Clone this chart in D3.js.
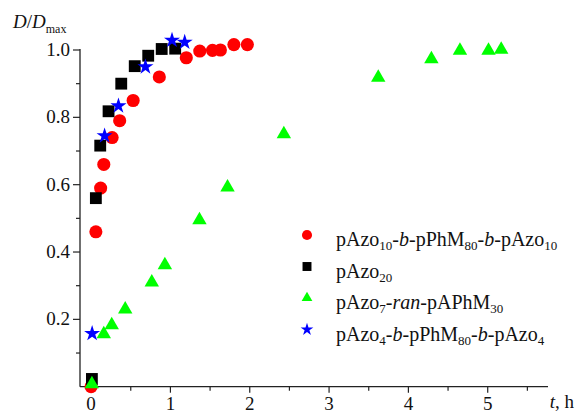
<!DOCTYPE html>
<meta charset="utf-8">
<script src="https://d3js.org/d3.v7.min.js"></script>
<body style="margin:0;background:#fff">
<svg width="576" height="414" font-family="'Liberation Serif', 'Times New Roman', serif"></svg>
<style>
text{ font-family: 'Liberation Serif', 'Times New Roman', serif; fill:#111; }
</style>
<script>
// series: time (h) and D/Dmax
const redT   = [0, 0.06, 0.12, 0.16, 0.265, 0.36, 0.53, 0.86, 1.20, 1.37, 1.53, 1.63, 1.80, 1.97];
const redV   = [0.0, 0.46, 0.59, 0.66, 0.74, 0.79, 0.85, 0.92, 0.977, 0.997, 0.999, 1.0, 1.016, 1.016];
const blackT = [0.01, 0.06, 0.115, 0.22, 0.38, 0.55, 0.72, 0.89, 1.06];
const blackV = [0.023, 0.56, 0.716, 0.818, 0.90, 0.952, 0.983, 1.003, 1.004];
const greenT = [0.01, 0.16, 0.26, 0.43, 0.765, 0.93, 1.366, 1.72, 2.43, 3.62, 4.29, 4.65, 5.01, 5.17];
const greenV = [0.008, 0.156, 0.183, 0.23, 0.31, 0.361, 0.495, 0.592, 0.75, 0.918, 0.973, 0.998, 0.998, 1.001];
const blueT  = [0.013, 0.17, 0.345, 0.685, 1.02, 1.18];
const blueV  = [0.158, 0.745, 0.834, 0.95, 1.029, 1.023];

const xTicks = [0, 1, 2, 3, 4, 5];
const yTicks = [0.2, 0.4, 0.6, 0.8, 1.0];

// legend label pieces: [text, style] where style: n normal, i italic, s subscript
const legendLabels = [
  [['pAzo','n'],['10','s'],['-','n'],['b','i'],['-pPhM','n'],['80','s'],['-','n'],['b','i'],['-pAzo','n'],['10','s']],
  [['pAzo','n'],['20','s']],
  [['pAzo','n'],['7','s'],['-','n'],['ran','i'],['-pAPhM','n'],['30','s']],
  [['pAzo','n'],['4','s'],['-','n'],['b','i'],['-pPhM','n'],['80','s'],['-','n'],['b','i'],['-pAzo','n'],['4','s']]
];

const series = [
  {t: redT,   v: redV,   color: '#ff0000', sym: d3.symbolCircle,   size: 135, lsize: 80},
  {t: blackT, v: blackV, color: '#000000', sym: d3.symbolSquare,   size: 140, lsize: 80},
  {t: greenT, v: greenV, color: '#00ff00', sym: d3.symbolTriangle, size: 90,  lsize: 50},
  {t: blueT,  v: blueV,  color: '#0000ff', sym: d3.symbolStar,     size: 80,  lsize: 50}
];

const svg = d3.select('svg');
const x = d3.scaleLinear().domain([-0.14, 5.76]).range([80, 548]);
const y = d3.scaleLinear().domain([0, 1.0]).range([386.7, 50]);

const axisColor = '#222';

// x axis
const gx = svg.append('g').attr('transform', 'translate(0,386.7)');
gx.append('line').attr('x1', x.range()[0]).attr('x2', x.range()[1])
  .attr('stroke', axisColor).attr('stroke-width', 1.3);
d3.range(0, 6, 0.5).forEach(t => {
  const major = Math.abs(t - Math.round(t)) < 1e-6;
  gx.append('line').attr('x1', x(t)).attr('x2', x(t))
    .attr('y1', 0).attr('y2', major ? 6 : 4)
    .attr('stroke', axisColor).attr('stroke-width', 1.2);
});
gx.selectAll('text.tl').data(xTicks).enter().append('text')
  .attr('class', 'tl')
  .attr('x', d => x(d)).attr('y', 23)
  .attr('text-anchor', 'middle').attr('font-size', 19)
  .text(d => d);

// y axis
const gy = svg.append('g').attr('transform', 'translate(80,0)');
gy.append('line').attr('y1', y(0)).attr('y2', y(1.0) - 1)
  .attr('stroke', axisColor).attr('stroke-width', 1.3);
d3.range(1, 11).forEach(i => {
  const v = i / 10;
  const major = i % 2 === 0;
  gy.append('line').attr('x1', 0).attr('x2', major ? -7 : -4)
    .attr('y1', y(v)).attr('y2', y(v))
    .attr('stroke', axisColor).attr('stroke-width', 1.2);
});
gy.selectAll('text.tl').data(yTicks).enter().append('text')
  .attr('class', 'tl')
  .attr('x', -10).attr('y', d => y(d) + 6)
  .attr('text-anchor', 'end').attr('font-size', 19)
  .text(d => d.toFixed(1));

// axis titles
const yt = svg.append('text').attr('x', 13).attr('y', 28).attr('font-size', 19);
yt.append('tspan').attr('font-style', 'italic').text('D');
yt.append('tspan').text('/');
yt.append('tspan').attr('font-style', 'italic').text('D');
yt.append('tspan').attr('font-size', 12).attr('dy', 5).text('max');

const xt = svg.append('text').attr('x', 574).attr('y', 408)
  .attr('text-anchor', 'end').attr('font-size', 19);
xt.append('tspan').attr('font-style', 'italic').text('t');
xt.append('tspan').text(', h');

// data points
series.forEach((s, k) => {
  const pts = s.t.map((t, i) => ({t: t, v: s.v[i]}));
  svg.append('g').selectAll('path').data(pts).enter().append('path')
    .attr('transform', d => `translate(${x(d.t)},${y(d.v)})`)
    .attr('d', d3.symbol().type(s.sym).size(s.size))
    .attr('fill', s.color);
});

// legend
const lg = svg.append('g');
legendLabels.forEach((parts, k) => {
  const cy = 235 + k * 31.5;
  lg.append('path')
    .attr('transform', `translate(307,${cy})`)
    .attr('d', d3.symbol().type(series[k].sym).size(series[k].lsize))
    .attr('fill', series[k].color);
  const tx = lg.append('text').attr('x', 336).attr('y', cy + 11).attr('font-size', 20);
  let sub = false;
  parts.forEach(p => {
    const ts = tx.append('tspan').text(p[0]);
    if (p[1] === 'i') ts.attr('font-style', 'italic');
    if (p[1] === 's') {
      ts.attr('font-size', 13);
      if (!sub) ts.attr('dy', 4);
      sub = true;
    } else if (sub) {
      ts.attr('dy', -4);
      sub = false;
    }
  });
});
</script>
</body>
